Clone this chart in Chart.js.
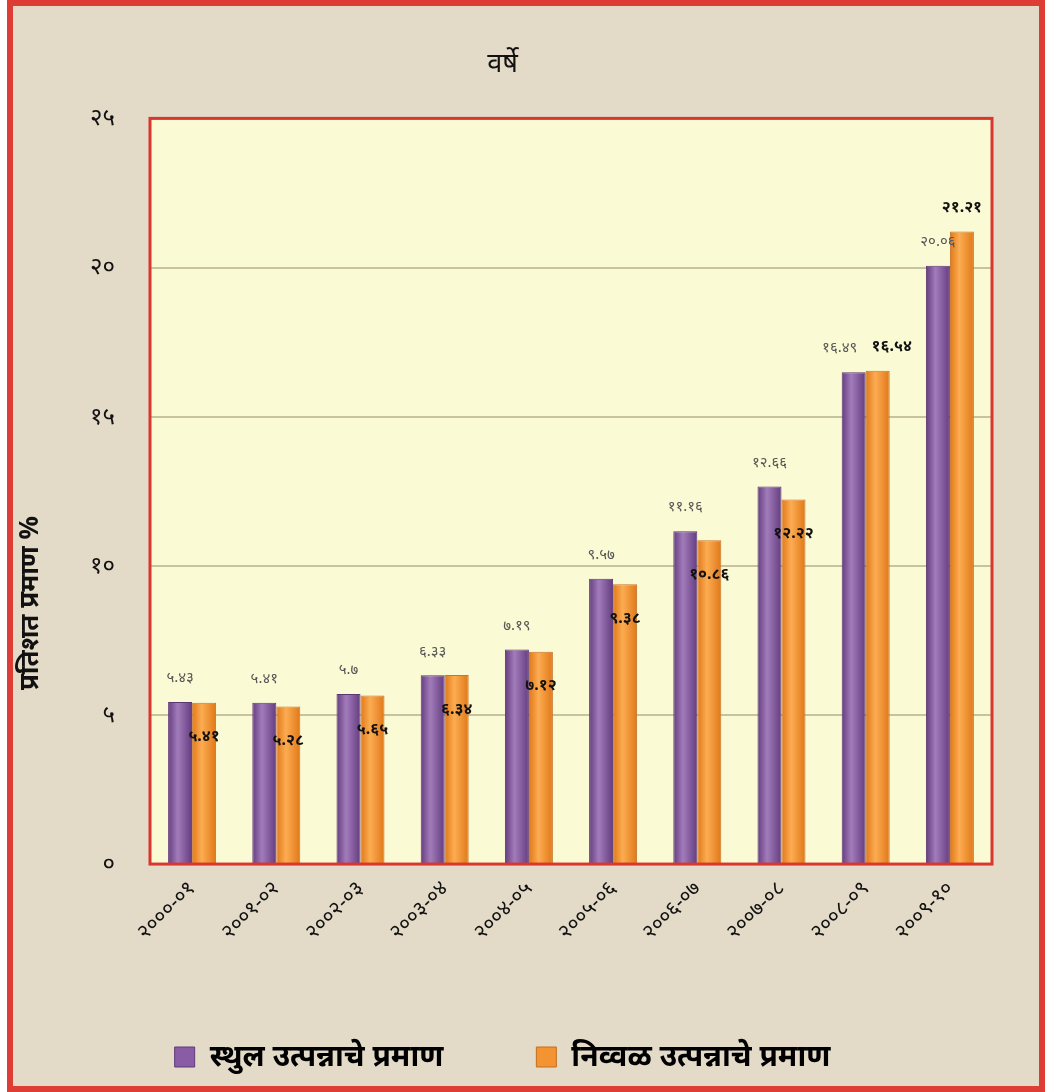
<!DOCTYPE html>
<html>
<head>
<meta charset="utf-8">
<script src="https://cdn.jsdelivr.net/npm/chart.js@4.4.0/dist/chart.umd.min.js"></script>
<style>
  html, body { margin: 0; padding: 0; background: #fff; }
  #wrap { position: absolute; left: 7px; top: 0; width: 1026px; height: 1080px; border: 6px solid #dd3d35; background: #e3dac8; }
</style>
</head>
<body>
<div id="wrap"><canvas id="myChart" width="1026" height="1080"></canvas></div>
<script>
// Chart data
const years = ['2000-01', '2001-02', '2002-03', '2003-04', '2004-05', '2005-06', '2006-07', '2007-08', '2008-09', '2009-10'];
const grossShare = [5.43, 5.41, 5.7, 6.33, 7.19, 9.57, 11.16, 12.66, 16.49, 20.06];
const netShare = [5.41, 5.28, 5.65, 6.34, 7.12, 9.38, 10.86, 12.22, 16.54, 21.21];
const yTicks = [0, 5, 10, 15, 20, 25];

const FONT = '"Noto Sans", "Noto Sans Devanagari", "Lohit Devanagari", "DejaVu Sans", sans-serif';
const CAT_PCT = 0.57;
const barShades = [['#643c80', '#a27cba'], ['#e07818', '#fcac52']];

// Marathi digits
const digits = ['०', '१', '२', '३', '४', '५', '६', '७', '८', '९'];
function mr(v) {
    return String(v).replace(/[0-9]/g, d => digits[+d]);
}

// horizontal gradient for every bar, placed from the x scale
function barGradient(ctx) {
    const chart = ctx.chart;
    const [dark, light] = barShades[ctx.datasetIndex];
    const xs = chart.scales && chart.scales.x;
    if (!xs || ctx.dataIndex === undefined) return light;
    const center = xs.getPixelForValue(ctx.dataIndex);
    const w = xs.width / years.length * CAT_PCT / 2;
    const left = center + (ctx.datasetIndex === 0 ? -w : 0);
    if (!Number.isFinite(left) || !Number.isFinite(w) || w <= 0) return light;
    const g = chart.ctx.createLinearGradient(left, 0, left + w, 0);
    g.addColorStop(0, dark);
    g.addColorStop(0.4, light);
    g.addColorStop(1, dark);
    return g;
}

// plot area fill + red border + y title
const plotFrame = {
    id: 'plotFrame',
    beforeDraw(chart) {
        const a = chart.chartArea, c = chart.ctx;
        c.save();
        c.fillStyle = '#fafad4';
        c.fillRect(a.left, a.top, a.right - a.left, a.bottom - a.top);
        c.restore();
    },
    afterDraw(chart) {
        const a = chart.chartArea, c = chart.ctx;
        c.save();
        c.strokeStyle = '#d9362e';
        c.lineWidth = 3;
        c.strokeRect(a.left, a.top, a.right - a.left, a.bottom - a.top);
        // y axis title
        c.translate(18, a.top + (a.bottom - a.top) * 0.65);
        c.rotate(-Math.PI / 2);
        c.textAlign = 'center';
        c.textBaseline = 'middle';
        c.fillStyle = '#111';
        c.font = 'bold 26px ' + FONT;
        c.fillText('प्रतिशत प्रमाण %', 0, 0);
        c.restore();
    }
};

// data labels
const barLabels = {
    id: 'barLabels',
    afterDatasetsDraw(chart) {
        const c = chart.ctx;
        c.save();
        c.textAlign = 'center';
        c.textBaseline = 'middle';
        chart.data.datasets.forEach((ds, di) => {
            chart.getDatasetMeta(di).data.forEach((bar, i) => {
                const v = ds.data[i];
                const close = Math.abs(grossShare[i] - netShare[i]) < 1 && netShare[i] > 15;
                let y = bar.y - 24;
                let x = bar.x;
                if (di === 0) {
                    c.font = '15px ' + FONT;
                    c.fillStyle = '#555';
                    if (close) x -= 14;
                } else {
                    c.font = 'bold 16px ' + FONT;
                    c.fillStyle = '#111';
                    if (v < 15) y = bar.y + 34;
                    else if (close) x += 14;
                }
                c.fillText(mr(v), x, y);
            });
        });
        c.restore();
    }
};

const data = {
    labels: years.map(mr),
    datasets: [{
        label: 'स्थुल उत्पन्नाचे प्रमाण',
        data: grossShare,
        backgroundColor: barGradient,
        borderColor: '#5a3672',
        borderWidth: 1
    }, {
        label: 'निव्वळ उत्पन्नाचे प्रमाण',
        data: netShare,
        backgroundColor: barGradient,
        borderColor: '#c8742a',
        borderWidth: 1
    }]
};

const config = {
    type: 'bar',
    data: data,
    options: {
        responsive: false,
        animation: false,
        layout: { padding: { left: 0, right: 47, top: 22, bottom: 4 } },
        datasets: { bar: { categoryPercentage: CAT_PCT, barPercentage: 1.0 } },
        plugins: {
            title: {
                display: true,
                text: 'वर्षे',
                color: '#111',
                font: { family: FONT, size: 27, weight: 'normal' },
                padding: { top: 20, bottom: 38 }
            },
            legend: {
                position: 'bottom',
                labels: {
                    color: '#111',
                    font: { family: FONT, size: 30, weight: 'bold' },
                    boxWidth: 20,
                    boxHeight: 20,
                    padding: 93,
                    generateLabels(chart) {
                        const cols = ['#8a5ca6', '#f39331'];
                        return chart.data.datasets.map((ds, i) => ({
                            text: ds.label,
                            fillStyle: cols[i],
                            strokeStyle: i ? '#c46f1f' : '#5e3a78',
                            lineWidth: 1,
                            datasetIndex: i
                        }));
                    }
                }
            },
            tooltip: { enabled: false }
        },
        scales: {
            x: {
                grid: { display: false },
                border: { display: false },
                ticks: {
                    color: '#111',
                    font: { family: FONT, size: 21 },
                    maxRotation: 45,
                    minRotation: 45,
                    padding: 4
                }
            },
            y: {
                min: 0,
                max: 25,
                afterBuildTicks(scale) {
                    scale.ticks = yTicks.map(v => ({ value: v }));
                },
                afterFit(scale) { scale.width = 137; },
                grid: { color: '#c9c29e', lineWidth: 2, drawTicks: false },
                border: { display: false },
                ticks: {
                    color: '#111',
                    font: { family: FONT, size: 24 },
                    padding: 35,
                    callback: v => mr(v)
                }
            }
        }
    },
    plugins: [plotFrame, barLabels]
};

// Render the chart
var myChart = new Chart(document.getElementById('myChart'), config);
</script>
</body>
</html>
